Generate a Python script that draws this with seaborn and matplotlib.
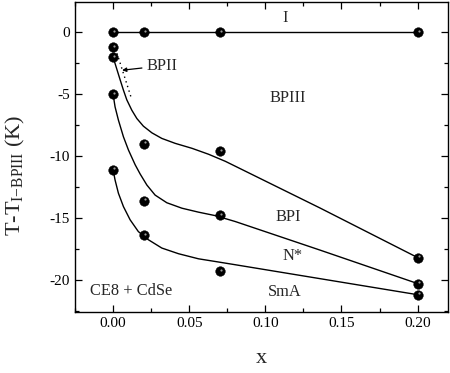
import numpy as np
import pandas as pd
import matplotlib
matplotlib.use("Agg")
import matplotlib.pyplot as plt
import matplotlib.transforms as mtransforms
from matplotlib.ticker import MultipleLocator, FormatStrFormatter
import seaborn as sns

# measured points (x = CdSe fraction, T - T_I-BPIII in K)
x_pts = [0.0, 0.02, 0.07, 0.2]
iso_T = [0.0, 0.0, 0.0, 0.0]
bp3_T = [-2.0, -9.0, -9.6, -18.2]
bp1_T = [-5.0, -13.6, -14.8, -20.3]
sma_T = [-11.1, -16.4, -19.3, -21.2]
bp2_x = [0.0]
bp2_T = [-1.2]

# guide curves
c1_x = [0.0, 0.0024, 0.0046, 0.0068, 0.0090, 0.0123, 0.0156, 0.0199, 0.0255,
        0.0320, 0.0408, 0.0518, 0.0627, 0.0737, 0.0803, 0.136, 0.2]
c1_T = [-2.0, -2.95, -3.82, -4.67, -5.45, -6.29, -6.96, -7.58, -8.12,
        -8.57, -8.97, -9.37, -9.85, -10.42, -10.82, -14.2, -18.2]
c2_x = [0.0, 0.0013, 0.0035, 0.0068, 0.0101, 0.0145, 0.0178, 0.0222, 0.0276,
        0.0353, 0.0452, 0.0561, 0.0671, 0.0803, 0.136, 0.2]
c2_T = [-5.0, -6.02, -7.09, -8.44, -9.51, -10.7, -11.45, -12.34, -13.15,
        -13.77, -14.21, -14.53, -14.81, -15.29, -17.6, -20.3]
c3_x = [0.0, 0.0013, 0.0035, 0.0068, 0.0112, 0.0166, 0.0232, 0.0320, 0.0430,
        0.0561, 0.0693, 0.0803, 0.2]
c3_T = [-11.1, -11.93, -13.0, -14.08, -15.15, -16.1, -16.76, -17.43, -17.89,
        -18.3, -18.56, -18.78, -21.2]
bp2_line_x = [0.0026, 0.0118]
bp2_line_T = [-1.7, -5.24]

sns.set_theme(style="ticks")
plt.rcParams['font.family'] = ['Liberation Serif', 'DejaVu Serif']
plt.rcParams['mathtext.fontset'] = 'custom'
plt.rcParams['mathtext.rm'] = 'Liberation Serif'
plt.rcParams['axes.unicode_minus'] = False

fig = plt.figure(figsize=(4.5, 3.73), dpi=100)
ax = fig.add_axes([0.1667, 0.1635, 0.829, 0.831])

# lines
sns.lineplot(x=x_pts, y=iso_T, ax=ax, color="black", lw=1.0, sort=False, estimator=None)
for cx, cy in [(c1_x, c1_T), (c2_x, c2_T), (c3_x, c3_T)]:
    sns.lineplot(x=cx, y=cy, ax=ax, color="black", lw=1.0, sort=False, estimator=None)
ax.plot(bp2_line_x, bp2_line_T, color="black", lw=1.0, ls=(0, (1, 2.5)))

# points (black spheres)
pts = pd.DataFrame({
    "x": x_pts * 4 + bp2_x,
    "T": iso_T + bp3_T + bp1_T + sma_T + bp2_T,
})
sns.scatterplot(data=pts, x="x", y="T", ax=ax, color="black", s=48,
                edgecolor="black", linewidth=0.3, zorder=5)
shine = mtransforms.offset_copy(ax.transData, fig=fig, x=1.0, y=1.0, units="points")
ax.scatter(pts["x"], pts["T"], s=2.5, color="#9a9a9a", linewidth=0, zorder=6, transform=shine)

# region labels
fs = 11.8
ax.text(0.113, 1.2, "I", ha="center", va="center", fontsize=fs)
ax.text(0.115, -5.3, "BPIII", ha="center", va="center", fontsize=fs)
ax.text(0.115, -14.9, "BPI", ha="center", va="center", fontsize=fs)
ax.text(0.118, -18.1, "N*", ha="center", va="center", fontsize=fs)
ax.text(0.113, -21.0, "SmA", ha="center", va="center", fontsize=fs)
ax.text(-0.015, -20.9, "CE8 + CdSe", ha="left", va="center", fontsize=fs)
ax.annotate("BPII", xy=(0.0059, -3.06), xytext=(0.022, -2.7), ha="left", va="center",
            fontsize=fs,
            arrowprops=dict(arrowstyle="-|>", color="black", lw=0.9,
                            mutation_scale=6, shrinkA=1, shrinkB=0))

ax.set_xlim(-0.025, 0.22)
ax.set_ylim(-22.6, 2.45)
ax.xaxis.set_major_locator(MultipleLocator(0.05))
ax.xaxis.set_minor_locator(MultipleLocator(0.025))
ax.yaxis.set_major_locator(MultipleLocator(5))
ax.yaxis.set_minor_locator(MultipleLocator(2.5))
ax.xaxis.set_major_formatter(FormatStrFormatter("%.2f"))
ax.tick_params(which="both", direction="in", top=True, right=True, labelsize=11,
               width=0.9, color="black", labelcolor="black")
ax.tick_params(which="major", length=5)
ax.tick_params(which="minor", length=3)
for sp in ax.spines.values():
    sp.set_linewidth(1.0)
    sp.set_color("black")

ax.set_xlabel("x", fontsize=16, labelpad=14)
ax.set_ylabel(r"T-T$_{\mathrm{I}\mathrm{-}\mathrm{BPIII}}$ (K)", fontsize=16)
ax.yaxis.set_label_coords(-0.128, 0.44)

fig.savefig("out.png", dpi=100)
